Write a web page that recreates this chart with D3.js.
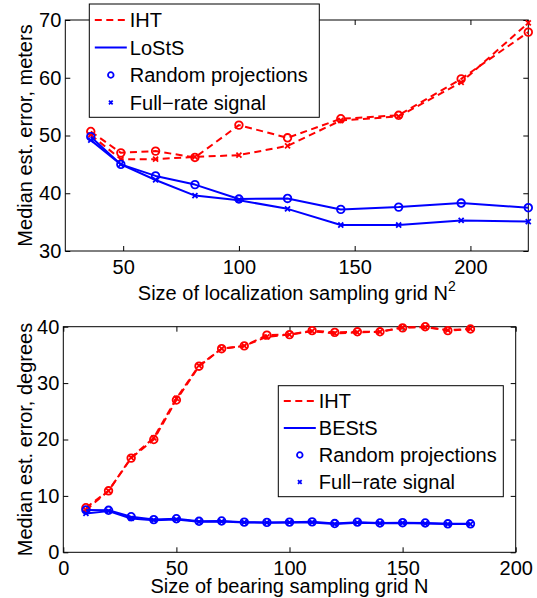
<!DOCTYPE html>
<html>
<head>
<meta charset="utf-8">
<title>Median estimation error</title>
<script src="https://d3js.org/d3.v7.min.js"></script>
<style type="text/css">
    body { margin: 0; background: #fff; }
    svg { display: block; font-family: "Liberation Sans", Arial, Helvetica, sans-serif; }
    .frame { fill: none; stroke: #000; stroke-width: 1px; }
    .tick line { stroke: #000; }
    .tick text { font-size: 20px; fill: #000; }
    .label { font-size: 20px; fill: #000; }
</style>
</head>
<body>
<div id="chart"></div>
<script type="text/javascript">

    // top panel: localization grid N^2
    var gridN2 = [36, 49, 64, 81, 100, 121, 144, 169, 196, 225];
    var locIhtRandom = [50.7, 47.0, 47.3, 46.2, 51.8, 49.6, 52.9, 53.5, 59.8, 67.9];
    var locIhtFull   = [50.1, 45.9, 45.9, 46.3, 46.6, 48.2, 52.6, 53.3, 59.2, 69.5];
    var locRandom    = [49.8, 45.0, 43.0, 41.5, 39.0, 39.1, 37.2, 37.6, 38.3, 37.5];
    var locFull      = [49.2, 45.0, 42.3, 39.6, 38.8, 37.3, 34.5, 34.5, 35.3, 35.1];
    var locTicksX = [50, 100, 150, 200];
    var locTicksY = [30, 40, 50, 60, 70];

    // bottom panel: bearing grid N
    var gridN = [10, 20, 30, 40, 50, 60, 70, 80, 90, 100, 110, 120, 130, 140, 150, 160, 170, 180];
    var bearIhtRandom = [7.9, 10.9, 16.7, 20.0, 27.0, 33.0, 36.1, 36.6, 38.5, 38.6, 39.3, 39.0, 39.1, 39.1, 39.8, 40.0, 39.3, 39.6];
    var bearIhtFull   = [7.5, 10.9, 16.8, 20.3, 27.3, 33.1, 36.1, 36.6, 38.2, 38.6, 39.2, 38.8, 39.0, 39.1, 39.9, 39.9, 39.4, 39.6];
    var bearRandom    = [7.5, 7.45, 6.3, 5.8, 5.95, 5.5, 5.55, 5.35, 5.3, 5.35, 5.4, 5.1, 5.35, 5.2, 5.25, 5.2, 5.05, 5.05];
    var bearFull      = [6.9, 7.3, 6.0, 5.7, 5.8, 5.4, 5.45, 5.3, 5.25, 5.3, 5.3, 5.0, 5.25, 5.15, 5.2, 5.1, 5.0, 5.0];
    var bearTicksX = [0, 50, 100, 150, 200];
    var bearTicksY = [0, 10, 20, 30, 40];

    var RED = "#ff0000", BLUE = "#0000ff";

    var svg = d3.select("#chart").append("svg")
        .attr("width", 537)
        .attr("height", 598);

    var panels = [
        {   box : { left: 65.3, right: 528.3, top: 20, bottom: 251 }
            , xDomain : [25, 225], yDomain : [30, 70]
            , xTicks : locTicksX, yTicks : locTicksY
            , x : gridN2
            , series : [ { y: locIhtRandom, color: RED, dash: true, marker: "o" }
                       , { y: locIhtFull, color: RED, dash: true, marker: "x" }
                       , { y: locRandom, color: BLUE, dash: false, marker: "o" }
                       , { y: locFull, color: BLUE, dash: false, marker: "x" } ]
            , xLabel : "Size of localization sampling grid N", xSup : "2", xLabelY : 300
            , yLabel : "Median est. error, meters"
            , legend : { x: 89.3, y: 4, w: 230, h: 113.3, first: 20, step: 27.5 }
            , names : ["IHT", "LoStS", "Random projections", "Full\u2212rate signal"]
        },
        {   box : { left: 63.3, right: 515.7, top: 326.7, bottom: 552.3 }
            , xDomain : [0, 200], yDomain : [0, 40]
            , xTicks : bearTicksX, yTicks : bearTicksY
            , x : gridN
            , series : [ { y: bearIhtRandom, color: RED, dash: true, marker: "o" }
                       , { y: bearIhtFull, color: RED, dash: true, marker: "x" }
                       , { y: bearRandom, color: BLUE, dash: false, marker: "o" }
                       , { y: bearFull, color: BLUE, dash: false, marker: "x" } ]
            , xLabel : "Size of bearing sampling grid N", xSup : null, xLabelY : 593.3
            , yLabel : "Median est. error, degrees"
            , legend : { x: 278.3, y: 385.7, w: 225, h: 111, first: 401, step: 27 }
            , names : ["IHT", "BEStS", "Random projections", "Full\u2212rate signal"]
        }
    ];

    // size: half-width of the cross / radius of the circle
    function drawMarker(sel, type, color, size) {
        if (type === "o") {
            sel.append("circle")
                .attr("r", size)
                .attr("fill", "none")
                .attr("stroke", color)
                .attr("stroke-width", 1.8);
        } else {
            var h = size * 0.66;
            sel.append("path")
                .attr("d", "M" + (-h) + "," + (-h) + "L" + h + "," + h + "M" + (-h) + "," + h + "L" + h + "," + (-h))
                .attr("fill", "none")
                .attr("stroke", color)
                .attr("stroke-width", 1.8);
        }
    }

    panels.forEach(function(p) {
        var b = p.box;
        var x = d3.scaleLinear().domain(p.xDomain).range([b.left, b.right]);
        var y = d3.scaleLinear().domain(p.yDomain).range([b.bottom, b.top]);
        var g = svg.append("g");

        // ticks point inward, on all four sides (matlab style)
        g.append("g").attr("transform", "translate(0," + b.bottom + ")")
            .call(d3.axisBottom(x).tickValues(p.xTicks).tickSize(-5).tickPadding(9))
            .call(function(a) { a.select(".domain").remove(); });
        g.append("g").attr("transform", "translate(0," + b.top + ")")
            .call(d3.axisTop(x).tickValues(p.xTicks).tickSize(-5).tickFormat(""))
            .call(function(a) { a.select(".domain").remove(); });
        g.append("g").attr("transform", "translate(" + b.left + ",0)")
            .call(d3.axisLeft(y).tickValues(p.yTicks).tickSize(-5).tickPadding(4))
            .call(function(a) { a.select(".domain").remove(); });
        g.append("g").attr("transform", "translate(" + b.right + ",0)")
            .call(d3.axisRight(y).tickValues(p.yTicks).tickSize(-5).tickFormat(""))
            .call(function(a) { a.select(".domain").remove(); });
        g.selectAll(".tick text").attr("font-family", null).attr("font-size", null);

        g.append("rect").attr("class", "frame")
            .attr("x", b.left).attr("y", b.top)
            .attr("width", b.right - b.left).attr("height", b.bottom - b.top);

        var line = d3.line()
            .x(function(d) { return x(d[0]); })
            .y(function(d) { return y(d[1]); });

        p.series.forEach(function(s) {
            var pts = p.x.map(function(v, i) { return [v, s.y[i]]; });
            g.append("path")
                .attr("d", line(pts))
                .attr("fill", "none")
                .attr("stroke", s.color)
                .attr("stroke-width", 2)
                .attr("stroke-linejoin", "round")
                .attr("stroke-dasharray", s.dash ? "7,4.5" : null);
            g.selectAll(null).data(pts).enter().append("g")
                .attr("transform", function(d) { return "translate(" + x(d[0]) + "," + y(d[1]) + ")"; })
                .each(function() { drawMarker(d3.select(this), s.marker, s.color, 3.8); });
        });

        // axis labels
        var xl = g.append("text").attr("class", "label")
            .attr("x", (b.left + b.right) / 2)
            .attr("y", p.xLabelY)
            .attr("text-anchor", "middle")
            .text(p.xLabel);
        if (p.xSup) {
            xl.append("tspan").attr("dy", -9).attr("font-size", 14).text(p.xSup);
        }
        g.append("text").attr("class", "label")
            .attr("transform", "translate(32," + ((b.top + b.bottom) / 2) + ") rotate(-90)")
            .attr("text-anchor", "middle")
            .text(p.yLabel);

        // legend
        var L = p.legend;
        var lg = g.append("g");
        lg.append("rect")
            .attr("x", L.x).attr("y", L.y).attr("width", L.w).attr("height", L.h)
            .attr("fill", "#fff").attr("stroke", "#000").attr("stroke-width", 1);
        var entries = [ { color: RED, dash: true, marker: null }
                      , { color: BLUE, dash: false, marker: null }
                      , { color: BLUE, dash: false, marker: "o", noLine: true }
                      , { color: BLUE, dash: false, marker: "x", noLine: true } ];
        entries.forEach(function(e, i) {
            var cy = L.first + i * L.step;
            if (!e.noLine) {
                lg.append("line")
                    .attr("x1", L.x + 5.5).attr("x2", L.x + 37.5)
                    .attr("y1", cy).attr("y2", cy)
                    .attr("stroke", e.color).attr("stroke-width", 2)
                    .attr("stroke-dasharray", e.dash ? "7,4.5" : null);
            } else {
                drawMarker(lg.append("g").attr("transform", "translate(" + (L.x + 21.5) + "," + cy + ")"), e.marker, e.color, 2.8);
            }
            lg.append("text").attr("class", "label")
                .attr("x", L.x + 40.5)
                .attr("y", cy + 7)
                .text(p.names[i]);
        });
    });

</script>
</body>
</html>
